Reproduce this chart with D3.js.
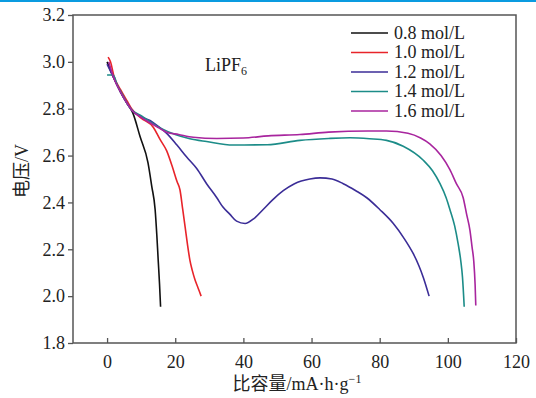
<!DOCTYPE html>
<html>
<head>
<meta charset="UTF-8">
<script src="https://d3js.org/d3.v7.min.js"></script>
<style>
  body { margin: 0; background: #fff; }
</style>
</head>
<body>
<div id="chart"></div>
<script>
var serif = "'Liberation Serif', 'Times New Roman', Times, 'Noto Sans CJK SC', serif";

// series labels and colours
var seriesNames = ["0.8 mol/L", "1.0 mol/L", "1.2 mol/L", "1.4 mol/L", "1.6 mol/L"];
var seriesColors = ["#111111", "#e8242a", "#3b2d97", "#1c8c88", "#a8259e"];

// [capacity mAh/g, voltage V]
var c08 = [[0,3.0],[2,2.93],[4,2.87],[6,2.82],[7.6,2.78],[9.7,2.68],[12,2.57],[13.1,2.47],[14.1,2.37],
  [14.6,2.26],[15,2.154],[15.4,2.05],[15.7,1.955]];
var c10 = [[0.3,3.02],[1,3.0],[2,2.94],[4,2.88],[6,2.83],[7.2,2.80],[10,2.76],[13.6,2.72],[15.5,2.67],
  [17.5,2.62],[19.2,2.55],[20.5,2.49],[21.4,2.453],[22.2,2.37],[22.9,2.296],[23.6,2.22],[24.3,2.154],
  [25,2.11],[25.8,2.07],[26.7,2.035],[27.6,2.0]];
var c12 = [[0,2.99],[2,2.93],[4,2.87],[6,2.82],[7.2,2.795],[10,2.765],[12.6,2.75],[15,2.725],[17.5,2.695],
  [20.5,2.645],[23.3,2.595],[26.3,2.545],[29.2,2.48],[32.2,2.42],[34,2.38],[36,2.35],[38,2.32],[40.5,2.31],
  [43,2.33],[45.8,2.37],[48.5,2.41],[51.7,2.45],[55,2.48],[59.5,2.50],[62.5,2.505],[66,2.50],[69.3,2.48],
  [73,2.45],[76.2,2.42],[80,2.37],[84,2.31],[87,2.25],[89.9,2.18],[91.5,2.13],[92.8,2.08],[94.5,2.0]];
var c14 = [[0,2.944],[1.8,2.944],[3,2.90],[4.5,2.86],[6,2.82],[7.2,2.795],[10,2.77],[12.6,2.745],[16,2.715],
  [20,2.69],[24.3,2.672],[29.2,2.66],[37,2.645],[47,2.646],[56.6,2.665],[65,2.673],[71.3,2.676],[77,2.672],
  [82,2.665],[86.9,2.64],[92.8,2.58],[95.5,2.535],[97.7,2.48],[99.5,2.42],[100.6,2.37],[102,2.30],
  [103,2.225],[103.8,2.15],[104.3,2.08],[104.8,1.955]];
var c16 = [[0.5,3.0],[2,2.93],[4,2.87],[6,2.82],[7.2,2.795],[9.7,2.766],[12.6,2.74],[15,2.72],[17.5,2.70],
  [21,2.69],[25.3,2.678],[32.2,2.673],[40,2.675],[47.3,2.684],[56.6,2.69],[65,2.70],[76.5,2.705],[82,2.705],
  [88.3,2.695],[92,2.675],[94.7,2.65],[98,2.60],[100.6,2.54],[102.5,2.48],[104.5,2.42],[105.5,2.35],
  [106.5,2.28],[107.1,2.21],[107.6,2.15],[108,2.05],[108.2,1.96]];
var allSeries = [c08, c10, c12, c14, c16];

var xTicks = [0, 20, 40, 60, 80, 100, 120];
var yTicks = [1.8, 2.0, 2.2, 2.4, 2.6, 2.8, 3.0, 3.2];

var width = 536, height = 398;
var margin = {top: 15, right: 20, bottom: 55, left: 73};

var svg = d3.select("#chart").append("svg")
  .attr("width", width)
  .attr("height", height);

// blue strip along the top edge
svg.append("rect").attr("x", 0).attr("y", 0).attr("width", width).attr("height", 2).attr("fill", "#0a9be0");

var x = d3.scaleLinear().domain([-10, 120]).range([margin.left, width - margin.right]);
var y = d3.scaleLinear().domain([1.8, 3.2]).range([height - margin.bottom, margin.top]);

// bottom axis, ticks pointing in
var xAxis = svg.append("g")
  .attr("transform", "translate(0," + y(1.8) + ")")
  .call(d3.axisBottom(x).tickValues(xTicks).tickSizeInner(-5).tickSizeOuter(0).tickPadding(10).tickFormat(d3.format("d")));
xAxis.selectAll("text").attr("dy", "0.85em");

// left axis, ticks pointing out
var yAxis = svg.append("g")
  .attr("transform", "translate(" + x(-10) + ",0)")
  .call(d3.axisLeft(y).tickValues(yTicks).tickSizeInner(5).tickSizeOuter(0).tickPadding(3).tickFormat(d3.format(".1f")));

svg.selectAll(".domain").remove();
svg.selectAll(".tick line").attr("stroke", "#555").attr("stroke-width", 1.3);
svg.selectAll(".tick text").attr("fill", "#222");
xAxis.attr("font-family", serif).attr("font-size", 18);
yAxis.attr("font-family", serif).attr("font-size", 18);

// frame
svg.append("rect")
  .attr("x", x(-10)).attr("y", y(3.2))
  .attr("width", x(120) - x(-10)).attr("height", y(1.8) - y(3.2))
  .attr("fill", "none").attr("stroke", "#555").attr("stroke-width", 1.5);

var line = d3.line()
  .x(function(d){ return x(d[0]); })
  .y(function(d){ return y(d[1]); })
  .curve(d3.curveMonotoneX);

svg.append("g").selectAll("path")
  .data(allSeries)
  .enter().append("path")
  .attr("d", line)
  .attr("fill", "none")
  .attr("stroke", function(d, i){ return seriesColors[i]; })
  .attr("stroke-width", 1.6);

// legend
var legend = svg.append("g")
  .attr("font-family", serif).attr("font-size", 18).attr("fill", "#222")
  .selectAll("g")
  .data(seriesNames)
  .enter().append("g")
  .attr("transform", function(d, i){ return "translate(351," + (33 + i * 19.5) + ")"; });
legend.append("line")
  .attr("x1", 0).attr("x2", 37)
  .attr("stroke", function(d, i){ return seriesColors[i]; })
  .attr("stroke-width", 1.6);
legend.append("text")
  .attr("x", 43).attr("dy", "0.33em")
  .text(function(d){ return d; });

// LiPF6 annotation
var ann = svg.append("text").attr("x", 205).attr("y", 71)
  .attr("font-family", serif).attr("font-size", 18).attr("fill", "#222");
ann.append("tspan").text("LiPF");
ann.append("tspan").attr("dy", 4).attr("font-size", 12).text("6");

// axis titles
svg.append("text")
  .attr("transform", "translate(28,171) rotate(-90)")
  .attr("text-anchor", "middle")
  .attr("font-family", serif).attr("font-size", 18).attr("fill", "#222")
  .text("电压/V");

var xt = svg.append("text")
  .attr("x", 297).attr("y", 390)
  .attr("text-anchor", "middle")
  .attr("font-family", serif).attr("font-size", 18).attr("fill", "#222");
xt.append("tspan").text("比容量/mA·h·g");
xt.append("tspan").attr("dy", -7).attr("font-size", 12).text("−1");
</script>
</body>
</html>
